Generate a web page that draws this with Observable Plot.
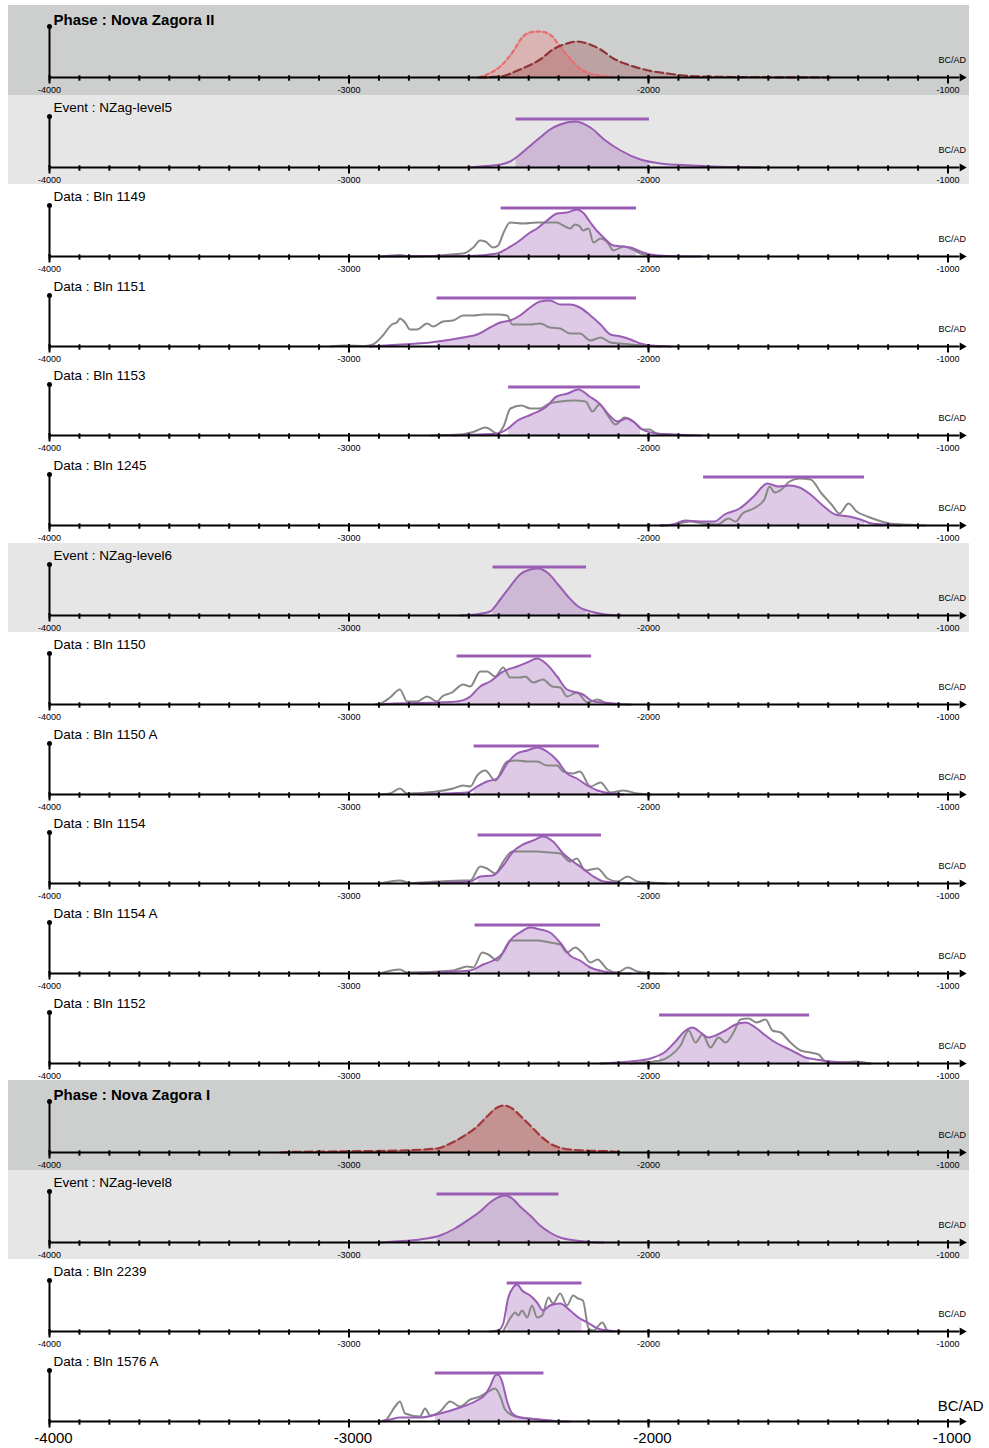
<!DOCTYPE html>
<html><head><meta charset="utf-8">
<script src="https://cdn.jsdelivr.net/npm/d3@7"></script>
<script src="https://cdn.jsdelivr.net/npm/@observablehq/plot@0.6"></script>
<style>
html,body{margin:0;padding:0;background:#fff;overflow:hidden}
#chart{padding-top:5px;width:989px}
#chart svg{display:block;overflow:visible}
</style>
</head><body><div id="chart"></div>
<script>
// ---------- axis ticks ----------
const majorTicks = [-4000, -3000, -2000, -1000];
const minorTicks = d3.range(-4000, -999, 100);

// ---------- Phase : Nova Zagora II (boundaries) ----------
const nz2Start = [[-2568,0],[-2539,3],[-2519,6],[-2495,11],[-2452,26],[-2419,41],[-2395,45],[-2362,46],[-2329,43],[-2295,31],[-2262,19],[-2229,9],[-2184,3],[-2137,1],[-2110,0]];
const nz2End = [[-2568,0],[-2495,1],[-2429,8],[-2362,18],[-2319,28],[-2272,34],[-2239,36],[-2204,34],[-2160,28],[-2117,19],[-2070,13],[-2027,9],[-1983,6],[-1936,4],[-1883,2],[-1826,1],[-1626,0.3],[-1392,0]];

// ---------- Event : NZag-level5 ----------
const level5Post = [[-2595,0],[-2562,1],[-2495,3],[-2462,6],[-2442,10],[-2402,20],[-2362,30],[-2329,38],[-2295,43],[-2245,46],[-2194,40],[-2144,27],[-2093,17],[-2027,8],[-1960,4],[-1860,2],[-1626,0]];
const level5Range = [-2442, -1997];

// ---------- Data : Bln 1149 ----------
const bln1149Post = [[-2897,0],[-2595,0.5],[-2505,3],[-2472,8],[-2439,14],[-2395,24],[-2372,28],[-2339,36],[-2305,43],[-2272,44],[-2239,47],[-2219,44],[-2194,34],[-2170,25],[-2150,19],[-2117,11],[-2083,10],[-2060,9],[-2027,5],[-1993,2],[-1936,0.5],[-1826,0]];
const bln1149Lik = [[-2887,0],[-2830,1.5],[-2796,0],[-2619,3],[-2585,9],[-2562,16],[-2545,15],[-2519,9],[-2502,11],[-2485,23],[-2462,34],[-2419,33],[-2372,34],[-2305,34],[-2285,31],[-2262,28],[-2245,32],[-2229,30],[-2219,26],[-2200,28],[-2184,14],[-2160,18],[-2137,14],[-2117,6],[-2083,10],[-2060,8],[-2027,3],[-1993,1],[-1960,0]];
const bln1149Range = [-2492, -2040];

// ---------- Data : Bln 1151 ----------
const bln1151Post = [[-2930,0],[-2840,1.7],[-2729,4],[-2619,9],[-2572,12],[-2529,19],[-2495,24],[-2462,26],[-2429,31],[-2395,39],[-2362,45],[-2329,46],[-2295,42],[-2262,42],[-2229,39],[-2194,31],[-2160,22],[-2127,12],[-2093,10],[-2060,7],[-2027,3],[-1993,1],[-1926,0]];
const bln1151Lik = [[-3062,0],[-3012,1],[-2945,0.5],[-2920,2],[-2887,11],[-2857,22],[-2840,24],[-2830,28],[-2813,24],[-2796,17],[-2773,17],[-2739,23],[-2719,20],[-2686,25],[-2652,26],[-2619,31],[-2585,31],[-2552,32],[-2505,32],[-2472,31],[-2455,22],[-2429,22],[-2395,22],[-2362,23],[-2329,19],[-2295,18],[-2262,13],[-2229,13],[-2194,6],[-2160,9],[-2127,4],[-2093,3],[-2060,2],[-2017,1],[-1960,0]];
const bln1151Range = [-2706, -2040];

// ---------- Data : Bln 1153 ----------
const bln1153Post = [[-2652,0],[-2605,0.7],[-2507,1.7],[-2474,6],[-2437,15],[-2391,21],[-2340,29],[-2307,39],[-2270,42],[-2234,46],[-2197,39],[-2164,32],[-2127,19],[-2103,14],[-2073,17],[-2043,12],[-2020,6],[-1973,2],[-1913,1],[-1826,0]];
const bln1153Lik = [[-2728,0],[-2628,1],[-2581,4],[-2544,8],[-2504,2],[-2484,9],[-2461,27],[-2424,30],[-2394,27],[-2364,27],[-2330,32],[-2294,34],[-2247,35],[-2210,34],[-2187,24],[-2164,31],[-2140,22],[-2110,11],[-2080,18],[-2050,14],[-2020,6],[-1997,6],[-1973,2],[-1937,1],[-1860,0]];
const bln1153Range = [-2467, -2027];

// ---------- Data : Bln 1245 ----------
const bln1245Post = [[-1960,0],[-1923,0.7],[-1876,5],[-1830,4],[-1780,4],[-1746,11],[-1696,17],[-1649,29],[-1603,42],[-1566,39],[-1529,40],[-1496,38],[-1459,31],[-1422,21],[-1376,11],[-1329,9],[-1292,6],[-1255,2],[-1209,1],[-1159,0]];
const bln1245Lik = [[-1960,0],[-1913,1],[-1863,4],[-1816,2],[-1770,1],[-1733,7],[-1709,4],[-1686,12],[-1649,17],[-1613,26],[-1596,39],[-1579,33],[-1556,36],[-1529,44],[-1496,47],[-1459,46],[-1422,32],[-1389,21],[-1362,12],[-1332,22],[-1305,14],[-1269,9],[-1232,5],[-1195,2],[-1148,1],[-1112,0.5],[-1075,0]];
const bln1245Range = [-1816, -1279];

// ---------- Event : NZag-level6 ----------
const level6Post = [[-2629,0],[-2579,1],[-2529,4],[-2495,16],[-2462,29],[-2429,41],[-2395,46],[-2369,47],[-2334,42],[-2302,31],[-2269,19],[-2235,9],[-2194,4],[-2144,1],[-2093,0]];
const level6Range = [-2519, -2207];

// ---------- Data : Bln 1150 ----------
const bln1150Post = [[-2897,0],[-2863,0.7],[-2706,2],[-2639,3],[-2595,8],[-2562,18],[-2529,23],[-2485,33],[-2439,38],[-2405,42],[-2372,46],[-2339,40],[-2305,28],[-2272,15],[-2239,12],[-2219,10],[-2184,3],[-2150,2],[-2103,0.5],[-2060,0]];
const bln1150Lik = [[-2912,0],[-2897,0.7],[-2863,7],[-2830,15],[-2806,3],[-2773,3],[-2739,8],[-2706,3],[-2689,8],[-2656,12],[-2619,20],[-2595,18],[-2562,33],[-2539,33],[-2512,28],[-2485,37],[-2462,27],[-2429,27],[-2412,28],[-2385,22],[-2352,25],[-2322,18],[-2295,17],[-2272,8],[-2239,12],[-2204,2],[-2170,5],[-2137,0.7],[-2110,0]];
const bln1150Range = [-2639, -2190];

// ---------- Data : Bln 1150 A ----------
const bln1150APost = [[-2763,0],[-2706,0.7],[-2605,2],[-2572,8],[-2539,13],[-2505,16],[-2472,31],[-2439,41],[-2405,44],[-2372,47],[-2339,43],[-2305,34],[-2272,21],[-2239,16],[-2204,9],[-2170,4],[-2127,1],[-2083,0]];
const bln1150ALik = [[-2897,0],[-2863,1],[-2830,6],[-2806,1],[-2706,3],[-2652,6],[-2619,9],[-2595,8],[-2572,19],[-2545,24],[-2512,14],[-2472,33],[-2439,34],[-2405,33],[-2372,33],[-2339,29],[-2305,29],[-2285,23],[-2252,21],[-2229,23],[-2194,8],[-2160,12],[-2127,2],[-2083,4],[-2037,1],[-1993,0]];
const bln1150ARange = [-2582, -2164];

// ---------- Data : Bln 1154 ----------
const bln1154Post = [[-2763,0],[-2706,0.7],[-2595,2],[-2562,7],[-2519,8],[-2485,18],[-2452,32],[-2419,39],[-2385,43],[-2352,47],[-2319,42],[-2285,30],[-2252,22],[-2219,15],[-2184,7],[-2150,2],[-2103,0.7],[-2060,0]];
const bln1154Lik = [[-2897,0],[-2830,3],[-2796,0.5],[-2706,2],[-2619,3],[-2595,3],[-2562,17],[-2539,15],[-2512,10],[-2485,22],[-2455,32],[-2419,32],[-2372,32],[-2329,31],[-2295,30],[-2262,22],[-2239,25],[-2212,13],[-2170,15],[-2137,5],[-2103,2],[-2070,7],[-2037,2],[-1993,1],[-1943,0]];
const bln1154Range = [-2569, -2157];

// ---------- Data : Bln 1154 A ----------
const bln1154APost = [[-2763,0],[-2706,1],[-2595,3],[-2552,9],[-2519,13],[-2485,21],[-2462,33],[-2429,41],[-2395,46],[-2362,44],[-2329,41],[-2295,31],[-2262,18],[-2229,13],[-2194,6],[-2150,2],[-2103,0.3],[-2060,0]];
const bln1154ALik = [[-2897,0],[-2830,4],[-2806,1],[-2652,3],[-2605,7],[-2585,6],[-2555,21],[-2535,19],[-2505,13],[-2472,29],[-2462,33],[-2419,33],[-2372,33],[-2329,31],[-2295,29],[-2272,21],[-2245,26],[-2222,21],[-2194,11],[-2170,14],[-2137,4],[-2103,1],[-2070,6],[-2037,2],[-1993,0.3],[-1943,0]];
const bln1154ARange = [-2579, -2160];

// ---------- Data : Bln 1152 ----------
const bln1152Post = [[-2160,0],[-2060,2],[-1993,5],[-1943,12],[-1910,22],[-1876,33],[-1853,36],[-1826,31],[-1800,26],[-1776,28],[-1743,33],[-1709,39],[-1676,41],[-1643,36],[-1609,28],[-1576,21],[-1543,16],[-1509,11],[-1476,6],[-1442,4],[-1392,2],[-1325,0.5],[-1259,0]];
const bln1152Lik = [[-2060,0],[-2027,1],[-1960,3],[-1926,8],[-1893,18],[-1866,33],[-1843,21],[-1820,29],[-1793,16],[-1766,26],[-1743,21],[-1716,31],[-1693,44],[-1666,45],[-1639,41],[-1609,44],[-1586,33],[-1559,31],[-1526,21],[-1492,13],[-1459,11],[-1432,9],[-1409,2],[-1359,1],[-1309,2],[-1259,0]];
const bln1152Range = [-1963, -1462];

// ---------- Phase : Nova Zagora I ----------
const nz1Boundary = [[-3229,0],[-3195,0.5],[-3062,1],[-2830,2],[-2706,4],[-2662,9],[-2619,16],[-2572,26],[-2539,36],[-2505,45],[-2485,47],[-2455,44],[-2429,37],[-2395,27],[-2362,17],[-2329,9],[-2285,4],[-2219,2],[-2117,1],[-2093,0]];

// ---------- Event : NZag-level8 ----------
const level8Post = [[-2897,0],[-2846,1],[-2763,3],[-2696,7],[-2646,14],[-2595,24],[-2562,31],[-2529,40],[-2495,46],[-2479,47],[-2455,44],[-2429,36],[-2395,27],[-2362,17],[-2329,10],[-2295,5],[-2245,2],[-2194,0.5],[-2150,0]];
const level8Range = [-2706, -2299];

// ---------- Data : Bln 2239 ----------
const bln2239Post = [[-2529,0],[-2502,1],[-2485,8],[-2469,33],[-2452,44],[-2439,47],[-2422,41],[-2395,36],[-2372,29],[-2352,21],[-2329,26],[-2295,28],[-2262,21],[-2229,13],[-2204,9],[-2170,3],[-2137,1],[-2093,0]];
const bln2239Lik = [[-2485,0],[-2462,13],[-2445,19],[-2435,16],[-2422,21],[-2405,14],[-2389,26],[-2372,14],[-2355,16],[-2334,34],[-2319,28],[-2295,38],[-2272,26],[-2252,36],[-2235,33],[-2219,31],[-2200,3],[-2184,1],[-2154,9],[-2137,1],[-2120,0]];
const bln2239Range = [-2472, -2222];

// ---------- Data : Bln 1576 A ----------
const bln1576APost = [[-2897,0],[-2863,2],[-2830,4],[-2763,4],[-2696,8],[-2629,14],[-2579,20],[-2545,27],[-2529,35],[-2512,46],[-2502,47],[-2489,40],[-2472,20],[-2455,8],[-2429,4],[-2362,2],[-2312,0.5],[-2262,0]];
const bln1576ALik = [[-2897,0],[-2880,1],[-2846,15],[-2830,20],[-2813,8],[-2763,5],[-2746,13],[-2729,6],[-2696,10],[-2662,20],[-2629,15],[-2595,22],[-2562,25],[-2535,30],[-2512,33],[-2495,25],[-2479,12],[-2445,5],[-2395,3],[-2345,1],[-2295,0]];
const bln1576ARange = [-2712, -2349];

// ---------- panel list ----------
const panels = [
  {kind: "phase", label: "Phase : Nova Zagora II", bounds: [[nz2Start, "start"], [nz2End, "end"]]},
  {kind: "event", label: "Event : NZag-level5", post: level5Post, range: level5Range},
  {kind: "data", label: "Data : Bln 1149", post: bln1149Post, lik: bln1149Lik, range: bln1149Range},
  {kind: "data", label: "Data : Bln 1151", post: bln1151Post, lik: bln1151Lik, range: bln1151Range},
  {kind: "data", label: "Data : Bln 1153", post: bln1153Post, lik: bln1153Lik, range: bln1153Range},
  {kind: "data", label: "Data : Bln 1245", post: bln1245Post, lik: bln1245Lik, range: bln1245Range},
  {kind: "event", label: "Event : NZag-level6", post: level6Post, range: level6Range},
  {kind: "data", label: "Data : Bln 1150", post: bln1150Post, lik: bln1150Lik, range: bln1150Range},
  {kind: "data", label: "Data : Bln 1150 A", post: bln1150APost, lik: bln1150ALik, range: bln1150ARange},
  {kind: "data", label: "Data : Bln 1154", post: bln1154Post, lik: bln1154Lik, range: bln1154Range},
  {kind: "data", label: "Data : Bln 1154 A", post: bln1154APost, lik: bln1154ALik, range: bln1154ARange},
  {kind: "data", label: "Data : Bln 1152", post: bln1152Post, lik: bln1152Lik, range: bln1152Range},
  {kind: "phase", label: "Phase : Nova Zagora I", bounds: [[nz1Boundary, "single"]]},
  {kind: "event", label: "Event : NZag-level8", post: level8Post, range: level8Range},
  {kind: "data", label: "Data : Bln 2239", post: bln2239Post, lik: bln2239Lik, range: bln2239Range},
  {kind: "data", label: "Data : Bln 1576 A", post: bln1576APost, lik: bln1576ALik, range: bln1576ARange}
];

// ---------- styles ----------
const PURPLE = "#9a5db4";
const GRAY_LINE = "#888888";
const BG = {phase: "#cdcfce", event: "#e6e6e6", data: "#ffffff"};
const BOUND_STYLE = {
  start: {stroke: "#e96d6e", fill: "rgb(240,130,130)", fillOpacity: 0.35, dash: "4,3"},
  end: {stroke: "#8e3439", fill: "rgb(150,60,60)", fillOpacity: 0.3, dash: "8,4"},
  single: {stroke: "#a1383d", fill: "rgb(185,70,70)", fillOpacity: 0.45, dash: "8,4"}
};
const STEP = 89.6;
const FONT = "'Liberation Sans', Arial, Helvetica, sans-serif";
const BAR_LEVEL = 48.5;

function interpAt(arr, x) {
  for (let k = 1; k < arr.length; k++) {
    const a = arr[k - 1], b = arr[k];
    if (x >= a[0] && x <= b[0]) return a[1] + (b[1] - a[1]) * (x - a[0]) / (b[0] - a[0]);
  }
  return 0;
}
function within(arr, [a, b]) {
  return [[a, interpAt(arr, a)], ...arr.filter(d => d[0] > a && d[0] < b), [b, interpAt(arr, b)]];
}

const root = document.getElementById("chart");
panels.forEach((p, i) => {
  const last = i === panels.length - 1;
  const top = Math.round(i * STEP);
  const bottom = last ? 1443 : Math.round((i + 1) * STEP);
  const H = bottom - top;
  const bg = BG[p.kind];
  const marks = [];
  const XY = {x: d => d[0], y: d => d[1]};
  if (p.kind === "phase") {
    for (const [arr, s] of p.bounds) {
      const st = BOUND_STYLE[s];
      marks.push(Plot.areaY(arr, {...XY, fill: st.fill, fillOpacity: st.fillOpacity, curve: "monotone-x"}));
    }
    for (const [arr, s] of p.bounds) {
      const st = BOUND_STYLE[s];
      marks.push(Plot.line(arr, {...XY, stroke: st.stroke, strokeWidth: 2.2, strokeDasharray: st.dash, curve: "monotone-x"}));
    }
  } else {
    marks.push(Plot.areaY(within(p.post, p.range), {...XY, fill: PURPLE, fillOpacity: 0.33, curve: "monotone-x"}));
    if (p.lik) marks.push(Plot.line(p.lik, {...XY, stroke: GRAY_LINE, strokeWidth: 2, curve: "monotone-x"}));
    marks.push(Plot.line(p.post, {...XY, stroke: PURPLE, strokeWidth: 2, curve: "monotone-x"}));
    marks.push(Plot.ruleY([p.range], {y: () => BAR_LEVEL, x1: d => d[0], x2: d => d[1], stroke: PURPLE, strokeWidth: 3}));
  }
  // axes
  marks.push(Plot.ruleY([0], {y: d => d, strokeWidth: 2, insetRight: -12, stroke: "black"}));
  marks.push(Plot.dot([0], {y: d => d, frameAnchor: "right", dx: 14, symbol: "triangle", rotate: 90, r: 3, fill: "black", stroke: "none"}));
  marks.push(Plot.ruleX([-4000], {x: d => d, strokeWidth: 2, stroke: "black"}));
  marks.push(Plot.dot([-4000], {x: d => d, frameAnchor: "top", r: 2.5, fill: "black", stroke: "none"}));
  marks.push(Plot.ruleX(minorTicks, {x: d => d, y1: 0, y2: 0, insetTop: -1.7, insetBottom: -3.7, strokeWidth: 2, stroke: "black"}));
  marks.push(Plot.ruleX(majorTicks, {x: d => d, y1: 0, y2: 0, insetTop: -1.7, insetBottom: -6.5, strokeWidth: 2, stroke: "black"}));
  marks.push(Plot.text(majorTicks, {x: d => d, y: 0, text: d => String(d), lineAnchor: "bottom", textAnchor: "middle",
    dx: last ? 4 : 0, dy: last ? 21 : 15.5, fontSize: last ? 15 : 9, fill: "black"}));
  marks.push(Plot.text(["BC/AD"], {text: d => d, frameAnchor: "bottom-right", textAnchor: "end", lineAnchor: "bottom",
    dx: last ? 35.5 : 18, dy: last ? -11 : -15, fontSize: last ? 15 : 9, fill: "black"}));
  const bold = p.kind === "phase";
  marks.push(Plot.text([p.label], {text: d => d, frameAnchor: "top-left", textAnchor: "start", lineAnchor: "bottom",
    dx: 4, dy: bold ? -2 : -5, fontSize: bold ? 15 : 13.5, fontWeight: bold ? "bold" : "normal", fill: "black"}));

  const svg = Plot.plot({
    width: 989, height: H,
    marginLeft: 49, marginRight: 41.5, marginTop: 21, marginBottom: H - 72,
    x: {domain: [-4000, -1000], axis: null},
    y: {domain: [0, 51], axis: null},
    style: {
      background: bg === "#ffffff" ? "#ffffff" : `linear-gradient(to right, #ffffff 0px, #ffffff 8px, ${bg} 8px, ${bg} 969px, #ffffff 969px)`,
      overflow: "visible", fontFamily: FONT, color: "black"
    },
    marks
  });
  root.appendChild(svg);
});
</script>
</body></html>
